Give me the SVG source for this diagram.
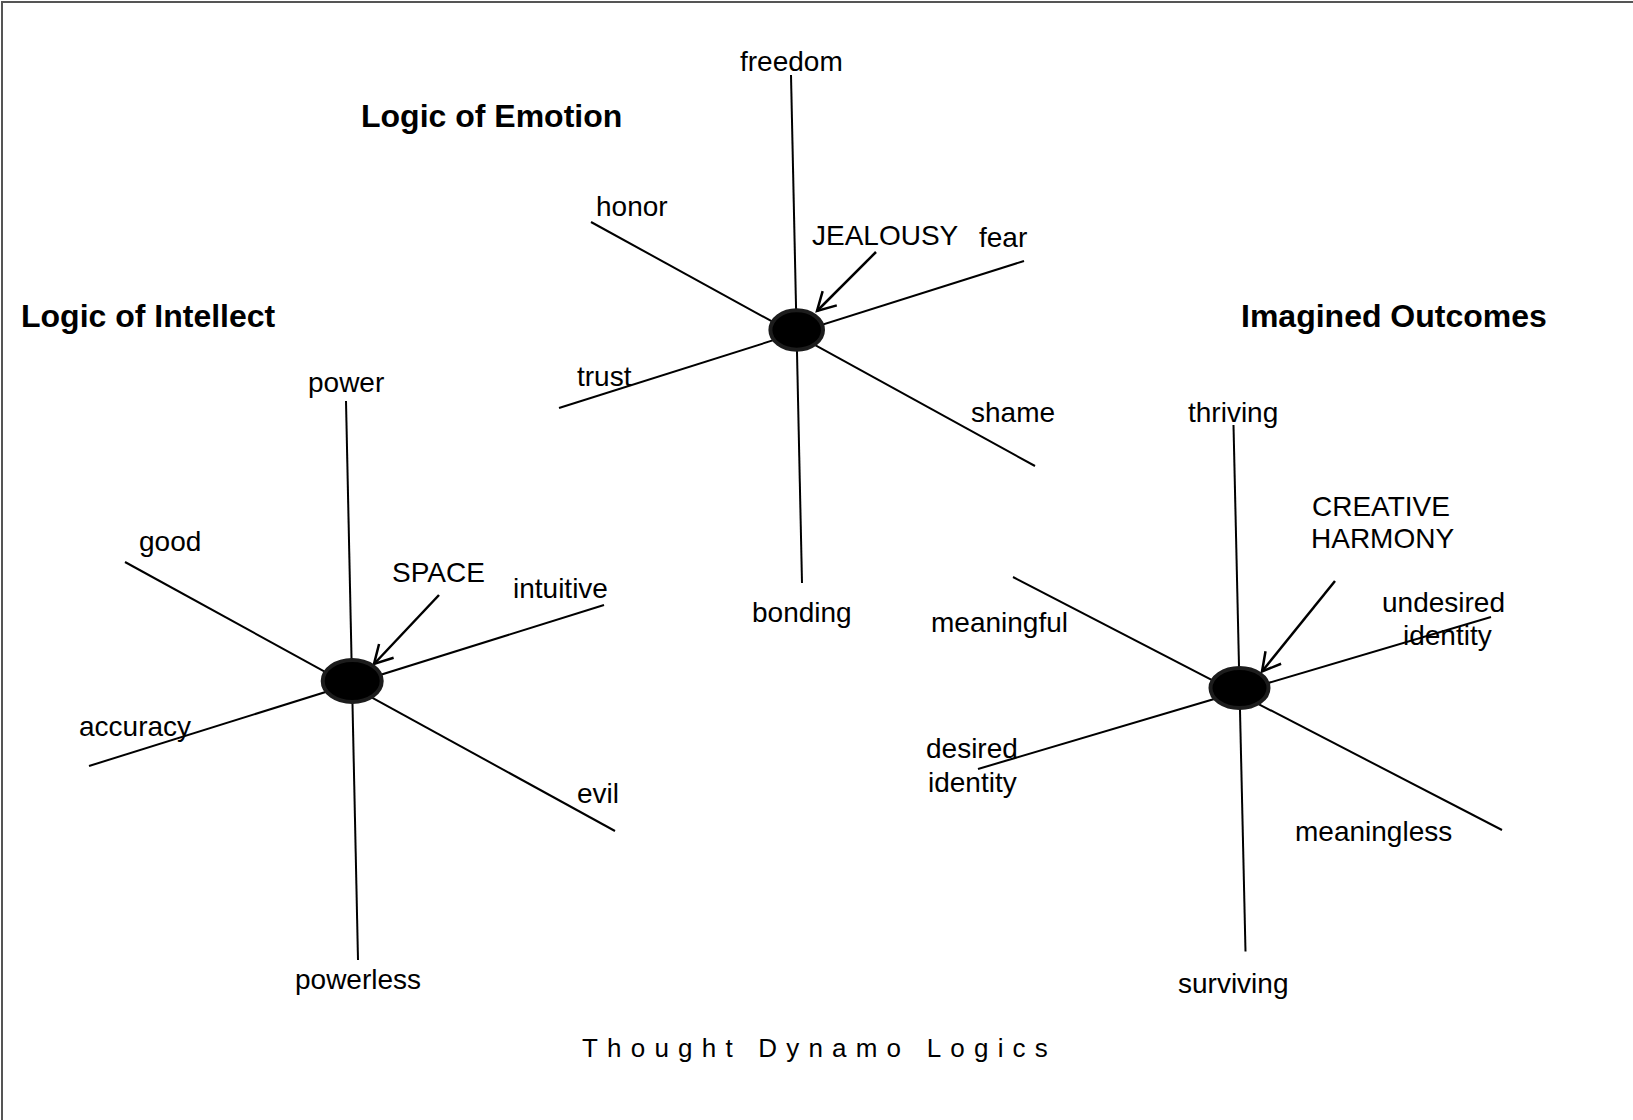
<svg xmlns="http://www.w3.org/2000/svg" width="1633" height="1120" viewBox="0 0 1633 1120">
<style>
text { font-family: "Liberation Sans", Arial, sans-serif; fill: #000; }
.lbl { font-size: 28px; }
.ttl { font-size: 32px; font-weight: bold; }
.cap { font-size: 26px; letter-spacing: 9.2px; }
.ln { stroke: #000; stroke-width: 2; fill: none; }
.arr { stroke: #000; stroke-width: 2.5; fill: none; marker-end: url(#ah); }
.hub { fill: #000; stroke: #1c1c1c; stroke-width: 4; }
</style>
<defs>
<marker id="ah" markerUnits="userSpaceOnUse" viewBox="-24 -14 28 28" refX="0" refY="0" markerWidth="28" markerHeight="28" orient="auto">
<path d="M-18,-10 L0,0 L-18,10" fill="none" stroke="#000" stroke-width="2.5"/>
</marker>
</defs>
<rect width="1633" height="1120" fill="#fff"/>
<path d="M2,1120 L2,2 L1633,2" fill="none" stroke="#555" stroke-width="2"/>

<g id="connectors">
<line class="ln" x1="791" y1="75" x2="802" y2="583"/>
<line class="ln" x1="591" y1="222" x2="1035" y2="466"/>
<line class="ln" x1="559" y1="408" x2="1024" y2="261"/>
<line class="arr" x1="876" y1="252" x2="817" y2="311"/>

<line class="ln" x1="346" y1="401" x2="358" y2="960"/>
<line class="ln" x1="125" y1="562" x2="615" y2="831"/>
<line class="ln" x1="89" y1="766" x2="604" y2="605"/>
<line class="arr" x1="439" y1="595" x2="374" y2="664"/>

<line class="ln" x1="1233.5" y1="425" x2="1245.5" y2="951.5"/>
<line class="ln" x1="1013" y1="577" x2="1502" y2="830"/>
<line class="ln" x1="978" y1="769" x2="1491" y2="617"/>
<line class="arr" x1="1335" y1="581" x2="1262" y2="671.5"/>
</g>

<g id="hub-emotion"><ellipse class="hub" cx="796.7" cy="330" rx="26.3" ry="19.7"/></g>
<g id="hub-intellect"><ellipse class="hub" cx="352.2" cy="681" rx="29.5" ry="21"/></g>
<g id="hub-outcomes"><ellipse class="hub" cx="1239.5" cy="688" rx="29" ry="20"/></g>

<g id="title-emotion"><text class="ttl" x="361" y="127">Logic of Emotion</text></g>
<g id="title-intellect"><text class="ttl" x="21" y="327">Logic of Intellect</text></g>
<g id="title-outcomes"><text class="ttl" x="1241" y="327">Imagined Outcomes</text></g>

<g id="lbl-freedom"><text class="lbl" x="740" y="71">freedom</text></g>
<g id="lbl-honor"><text class="lbl" x="596" y="216">honor</text></g>
<g id="lbl-jealousy"><text class="lbl" x="812" y="245">JEALOUSY</text></g>
<g id="lbl-fear"><text class="lbl" x="979" y="247">fear</text></g>
<g id="lbl-trust"><text class="lbl" x="577" y="386">trust</text></g>
<g id="lbl-shame"><text class="lbl" x="971" y="422">shame</text></g>
<g id="lbl-bonding"><text class="lbl" x="752" y="622">bonding</text></g>

<g id="lbl-power"><text class="lbl" x="308" y="392">power</text></g>
<g id="lbl-good"><text class="lbl" x="139" y="551">good</text></g>
<g id="lbl-space"><text class="lbl" x="392" y="582">SPACE</text></g>
<g id="lbl-intuitive"><text class="lbl" x="513" y="598">intuitive</text></g>
<g id="lbl-accuracy"><text class="lbl" x="79" y="736">accuracy</text></g>
<g id="lbl-evil"><text class="lbl" x="577" y="803">evil</text></g>
<g id="lbl-powerless"><text class="lbl" x="295" y="989">powerless</text></g>

<g id="lbl-thriving"><text class="lbl" x="1188" y="422">thriving</text></g>
<g id="lbl-creative"><text class="lbl" x="1312" y="516">CREATIVE</text><text class="lbl" x="1311" y="548">HARMONY</text></g>
<g id="lbl-undesired"><text class="lbl" x="1382" y="612">undesired</text><text class="lbl" x="1403" y="645">identity</text></g>
<g id="lbl-meaningful"><text class="lbl" x="931" y="632">meaningful</text></g>
<g id="lbl-desired"><text class="lbl" x="926" y="758">desired</text><text class="lbl" x="928" y="792">identity</text></g>
<g id="lbl-meaningless"><text class="lbl" x="1295" y="841">meaningless</text></g>
<g id="lbl-surviving"><text class="lbl" x="1178" y="993">surviving</text></g>

<g id="caption"><text class="cap" x="582" y="1057">Thought Dynamo Logics</text></g>
</svg>
